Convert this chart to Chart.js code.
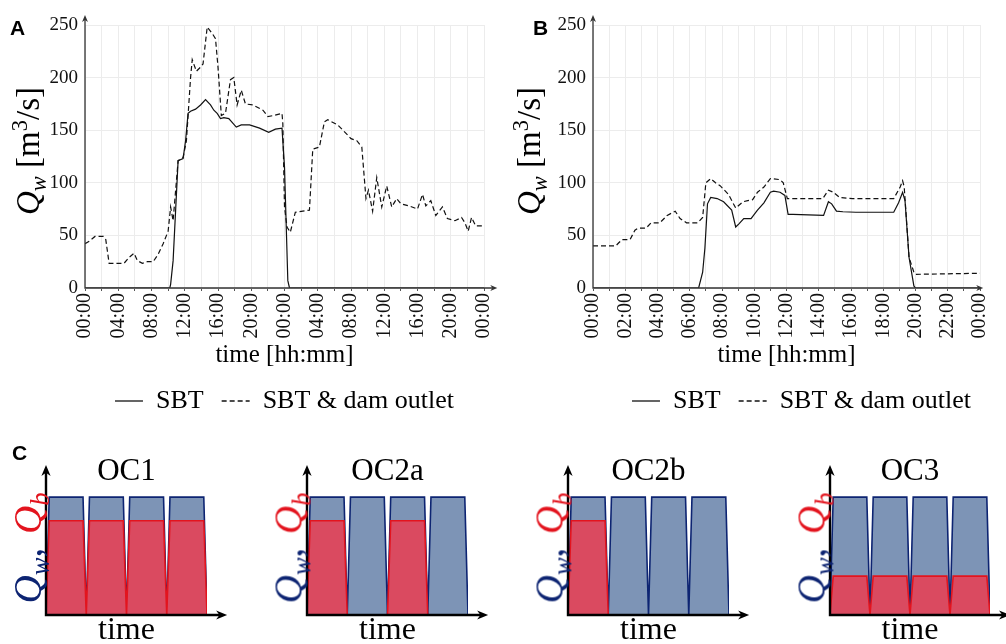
<!DOCTYPE html>
<html>
<head>
<meta charset="utf-8">
<title>Qw time series and operating concepts</title>
<script src="https://cdn.jsdelivr.net/npm/chart.js@4.4.1/dist/chart.umd.min.js"></script>
<style>
  html, body { margin: 0; padding: 0; background: #fff; }
  body { position: relative; width: 1006px; height: 644px; overflow: hidden; font-family: "Liberation Serif", "Times New Roman", serif; color: #000; }
  canvas { position: absolute; }
  .panel { position: absolute; font-family: "Liberation Sans", Arial, sans-serif; font-weight: bold; font-size: 21px; line-height: 21px; }
  .ytitle { position: absolute; white-space: nowrap; line-height: 1; transform: translate(-50%, -50%) rotate(-90deg); }
  .ytitle sub, .ytitle sup { font-size: 0.68em; line-height: 0; }
  .oc { font-size: 39px; word-spacing: 4px; }
  .qw { color: #0d2472; }
  .qb { color: #e3141e; }
</style>
</head>
<body>
<canvas id="chartA" width="510" height="424" style="left:0;top:0"></canvas>
<canvas id="chartB" width="501" height="424" style="left:505px;top:0"></canvas>
<canvas id="oc1" width="250" height="230" style="left:0;top:430px"></canvas>
<canvas id="oc2a" width="250" height="230" style="left:260px;top:430px"></canvas>
<canvas id="oc2b" width="250" height="230" style="left:522px;top:430px"></canvas>
<canvas id="oc3" width="222" height="230" style="left:784px;top:430px"></canvas>

<div class="panel" style="left:10px;top:17px">A</div>
<div class="panel" style="left:533px;top:17px">B</div>
<div class="panel" style="left:12px;top:442px">C</div>

<div class="ytitle" style="left:28px;top:151px;font-size:33px"><i>Q</i><sub><i>w</i></sub> [m<sup>3</sup>/s]</div>
<div class="ytitle" style="left:529px;top:151px;font-size:33px"><i>Q</i><sub><i>w</i></sub> [m<sup>3</sup>/s]</div>

<div class="ytitle oc" style="left:27px;top:548px"><span class="qw"><i>Q</i><sub><i>w</i></sub>,</span> <span class="qb"><i>Q</i><sub><i>b</i></sub></span></div>
<div class="ytitle oc" style="left:288px;top:548px"><span class="qw"><i>Q</i><sub><i>w</i></sub>,</span> <span class="qb"><i>Q</i><sub><i>b</i></sub></span></div>
<div class="ytitle oc" style="left:549px;top:548px"><span class="qw"><i>Q</i><sub><i>w</i></sub>,</span> <span class="qb"><i>Q</i><sub><i>b</i></sub></span></div>
<div class="ytitle oc" style="left:811px;top:548px"><span class="qw"><i>Q</i><sub><i>w</i></sub>,</span> <span class="qb"><i>Q</i><sub><i>b</i></sub></span></div>

<script>
const SERIF = '"Liberation Serif", "Times New Roman", serif';

// panel A - two days, hours counted from 00:00 of the first day
const hoursA_sbt = [0, 10.2, 10.3, 10.6, 11.2, 11.8, 12.1, 12.4, 12.7, 13.3, 13.9, 14.5, 15.1, 15.5, 15.9, 16.3, 16.7, 17.3, 18.2, 18.8, 19.8, 21, 22.1, 22.9, 23.7, 24.0, 24.4, 24.6, 48];
const flowA_sbt = [0, 0, 3.5, 26, 121, 123, 140, 166, 168, 170, 174, 179, 174, 169, 166, 161, 162, 161, 153, 155, 155, 152, 148, 151, 152, 115, 7, 0, 0];
const hoursA_dam = [0, 0.6, 1.2, 2.2, 2.5, 2.9, 4.7, 5.3, 5.9, 6.3, 6.9, 7.5, 8.2, 8.8, 9.4, 10, 10.3, 10.6, 11.2, 11.8,
  12.2, 12.7, 12.9, 13.4, 13.9, 14.2, 14.7, 15.3, 15.7, 16, 16.4, 16.9, 17.5, 17.9, 18.3, 18.8, 19.3, 20.2, 21.4, 22,
  22.7, 23.7, 23.8, 24, 24.3, 24.7, 25.3, 27, 27.4, 28.2, 28.8, 29.2, 30.4, 31.4, 32, 32.7, 33.3, 33.8, 34.1, 34.6,
  35.1, 35.7, 36.3, 36.9, 37.5, 38, 39, 40, 40.6, 41, 41.6, 42.2, 43, 43.6, 44.5, 45.3, 45.7, 46.1, 46.5, 47, 48];
const flowA_dam = [42, 45, 49, 49, 46, 23.5, 23.5, 29, 33, 26, 23.5, 25, 25, 32, 42, 54, 77, 64, 121, 124,
  140, 200, 217, 206, 210, 213, 248, 242, 237, 210, 164, 166, 198, 200, 174, 188, 175, 174, 169, 163,
  164, 166, 156, 77, 58, 53, 72, 74, 132, 134, 158, 160, 155, 147, 142, 140, 134, 85, 93, 73,
  105, 77, 97, 77, 85, 80, 78, 75, 89, 78, 83, 69, 77, 66, 64, 67, 62, 54, 67, 59, 59];
const tickLabelsA = ['00:00', '04:00', '08:00', '12:00', '16:00', '20:00', '00:00', '04:00', '08:00', '12:00', '16:00', '20:00', '00:00'];

// panel B - one day
const hoursB_sbt = [0, 6.55, 6.8, 6.94, 7.1, 7.3, 7.7, 8.1, 8.6, 8.85, 9.05, 9.35, 9.8, 10.2, 10.6, 11.0, 11.2, 11.6, 11.9, 12.1,
  12.4, 14.3, 14.6, 14.8, 15.1, 15.5, 16.3, 18.65, 18.95, 19.2, 19.35, 19.6, 19.9, 20, 24];
const flowB_sbt = [0, 0, 15, 38, 80, 86, 85, 82, 74, 58, 61, 66, 66, 74, 81, 91, 92, 91, 88, 70,
  70, 69, 82, 80, 73, 72.5, 72, 72, 81, 91, 83, 29, 2, 0, 0];
const hoursB_dam = [0, 1.41, 1.6, 1.8, 2.3, 2.6, 2.8, 3.3, 3.6, 4.15, 4.6, 5.1, 5.4, 5.8, 6.5, 6.8, 7.0, 7.3, 7.6, 7.9,
  8.4, 8.85, 9.3, 9.6, 9.9, 10.2, 10.6, 11.0, 11.6, 11.8, 12.05, 14.25, 14.6, 14.9, 15.3, 16.1, 18.65, 19.05, 19.2, 19.3,
  19.6, 19.9, 20, 24];
const flowB_dam = [40, 40, 43, 46, 46, 55, 57, 57, 62, 62, 69, 73, 66, 62, 62, 67, 100, 104, 100, 97,
  89, 76, 82, 83, 84, 91, 96, 104, 103, 100, 85, 85, 93, 91, 86, 85, 85, 96, 102, 96,
  29, 15, 13, 14];
const tickLabelsB = ['00:00', '02:00', '04:00', '06:00', '08:00', '10:00', '12:00', '14:00', '16:00', '18:00', '20:00', '22:00', '00:00'];

// panel C - schematic pulses (relative units)
const pulseTime = [0, 0.08, 0.92, 1, 1.08, 1.92, 2, 2.08, 2.92, 3, 3.08, 3.92, 4];
const qwPulse = [0, 1, 1, 0, 1, 1, 0, 1, 1, 0, 1, 1, 0];
const qbOC1 = [0, 0.8, 0.8, 0, 0.8, 0.8, 0, 0.8, 0.8, 0, 0.8, 0.8, 0];
const qbOC2a = [0, 0.8, 0.8, 0, 0, 0, 0, 0.8, 0.8, 0, 0, 0, 0];
const qbOC2b = [0, 0.8, 0.8, 0, 0, 0, 0, 0, 0, 0, 0, 0, 0];
const qbOC3 = [0, 0.33, 0.33, 0, 0.33, 0.33, 0, 0.33, 0.33, 0, 0.33, 0.33, 0];

const zip = (xs, ys) => xs.map((x, i) => ({ x: x, y: ys[i] }));

// axis lines with arrow heads, drawn past the plot area
const axisArrows = {
  id: 'axisArrows',
  afterDraw(chart, args, opts) {
    const { ctx } = chart;
    const x = chart.scales.x, y = chart.scales.y;
    const x0 = x.getPixelForValue(x.min), y0 = y.getPixelForValue(0);
    const x1 = x.getPixelForValue(opts.xEnd), y1 = y.getPixelForValue(opts.yEnd);
    const h = opts.head;
    ctx.save();
    ctx.strokeStyle = opts.color;
    ctx.fillStyle = opts.color;
    ctx.lineWidth = opts.width;
    ctx.beginPath();
    ctx.moveTo(x0, y1 + h * 0.6);
    ctx.lineTo(x0, y0);
    ctx.lineTo(x1 - h * 0.6, y0);
    ctx.stroke();
    ctx.beginPath();
    ctx.moveTo(x0, y1);
    ctx.lineTo(x0 - h * 0.42, y1 + h);
    ctx.lineTo(x0, y1 + h * 0.7);
    ctx.lineTo(x0 + h * 0.42, y1 + h);
    ctx.closePath();
    ctx.fill();
    ctx.beginPath();
    ctx.moveTo(x1, y0);
    ctx.lineTo(x1 - h, y0 - h * 0.42);
    ctx.lineTo(x1 - h * 0.7, y0);
    ctx.lineTo(x1 - h, y0 + h * 0.42);
    ctx.closePath();
    ctx.fill();
    ctx.restore();
  }
};

// nudge the legend sideways without touching the plot area
const legendShift = {
  id: 'legendShift',
  afterLayout(chart, args, opts) {
    if (chart.legend && opts.dx) {
      chart.legend.left += opts.dx;
      chart.legend.right += opts.dx;
    }
  }
};

function timeChart(id, o) {
  return new Chart(document.getElementById(id), {
    type: 'line',
    data: {
      datasets: [
        { label: 'SBT', data: zip(o.tSbt, o.qSbt), borderColor: '#111', borderWidth: 1.2, pointRadius: 0, tension: 0, fill: false },
        { label: 'SBT & dam outlet', data: zip(o.tDam, o.qDam), borderColor: '#111', borderWidth: 1.2, borderDash: [5, 3], pointRadius: 0, tension: 0, fill: false }
      ]
    },
    options: {
      responsive: false,
      animation: false,
      layout: { padding: { left: 0, top: 25, right: o.padRight, bottom: 0 } },
      scales: {
        x: {
          type: 'linear', min: 0, max: o.hours,
          ticks: {
            stepSize: o.step, autoSkip: false, minRotation: 90, maxRotation: 90, padding: 2,
            color: '#111', font: { family: SERIF, size: 20 },
            callback: v => (v % o.every === 0 ? o.labels[v / o.every] : '')
          },
          grid: { color: '#ececec', tickColor: '#555', tickLength: 3 },
          border: { display: false },
          title: { display: true, text: 'time [hh:mm]', color: '#000', font: { family: SERIF, size: 25 }, padding: { top: 0, bottom: 0 } },
          afterFit: s => { s.height = 82; }
        },
        y: {
          min: 0, max: 250,
          ticks: { stepSize: 50, padding: 7, color: '#111', font: { family: SERIF, size: 19 } },
          grid: { color: '#ececec', drawTicks: false },
          border: { display: false },
          afterFit: s => { s.width = o.yWidth; }
        }
      },
      plugins: {
        legend: {
          position: 'bottom', fullSize: false,
          labels: {
            usePointStyle: true, pointStyle: 'line', pointStyleWidth: 28, padding: 18, color: '#000',
            font: { family: SERIF, size: 26 },
            // point-style legend items don't carry the dataset dash, copy it over
            generateLabels: chart => Chart.defaults.plugins.legend.labels.generateLabels(chart).map(item => {
              item.lineDash = chart.data.datasets[item.datasetIndex].borderDash || [];
              item.lineWidth = 1.3;
              item.strokeStyle = '#111';
              return item;
            })
          }
        },
        legendShift: { dx: o.legendDx },
        tooltip: { enabled: false },
        axisArrows: { xEnd: o.xEnd, yEnd: 259.5, color: '#333', width: 1.3, head: 7 }
      }
    },
    plugins: [axisArrows, legendShift]
  });
}

timeChart('chartA', { tSbt: hoursA_sbt, qSbt: flowA_sbt, tDam: hoursA_dam, qDam: flowA_dam, hours: 48, step: 2, every: 4, labels: tickLabelsA, yWidth: 85, padRight: 17, xEnd: 49.6, legendDx: 0 });
timeChart('chartB', { tSbt: hoursB_sbt, qSbt: flowB_sbt, tDam: hoursB_dam, qDam: flowB_dam, hours: 24, step: 1, every: 2, labels: tickLabelsB, yWidth: 88, padRight: 5, xEnd: 24.2, legendDx: 15 });

function ocChart(id, title, qb, yWidth, padRight) {
  return new Chart(document.getElementById(id), {
    type: 'line',
    data: {
      datasets: [
        { label: 'Qb', data: zip(pulseTime, qb), borderColor: '#e3141e', backgroundColor: '#da4a60', borderWidth: 1.6, fill: 'origin', pointRadius: 0, tension: 0 },
        { label: 'Qw', data: zip(pulseTime, qwPulse), borderColor: '#0d2472', backgroundColor: '#7d94b6', borderWidth: 1.6, fill: 'origin', pointRadius: 0, tension: 0 }
      ]
    },
    options: {
      responsive: false,
      animation: false,
      layout: { padding: { left: 0, top: 23, right: padRight, bottom: 0 } },
      scales: {
        x: {
          type: 'linear', min: 0, max: 4,
          ticks: { display: false }, grid: { display: false }, border: { display: false },
          title: { display: true, text: 'time', color: '#000', font: { family: SERIF, size: 32 }, padding: { top: 0, bottom: 10 } },
          afterFit: s => { s.height = 45; }
        },
        y: {
          min: 0, max: 1.05,
          ticks: { display: false }, grid: { display: false }, border: { display: false },
          afterFit: s => { s.width = yWidth; }
        }
      },
      plugins: {
        legend: { display: false },
        tooltip: { enabled: false },
        title: { display: true, text: title, fullSize: false, color: '#000', font: { family: SERIF, size: 31, weight: 'normal' }, padding: { top: 0, bottom: 1 } },
        axisArrows: { xEnd: 4.5, yEnd: 1.272, color: '#000', width: 2.4, head: 11 }
      }
    },
    plugins: [axisArrows]
  });
}

ocChart('oc1', 'OC1', qbOC1, 46, 43);
ocChart('oc2a', 'OC2a', qbOC2a, 47, 42);
ocChart('oc2b', 'OC2b', qbOC2b, 46, 43);
ocChart('oc3', 'OC3', qbOC3, 46, 16);
</script>
</body>
</html>
